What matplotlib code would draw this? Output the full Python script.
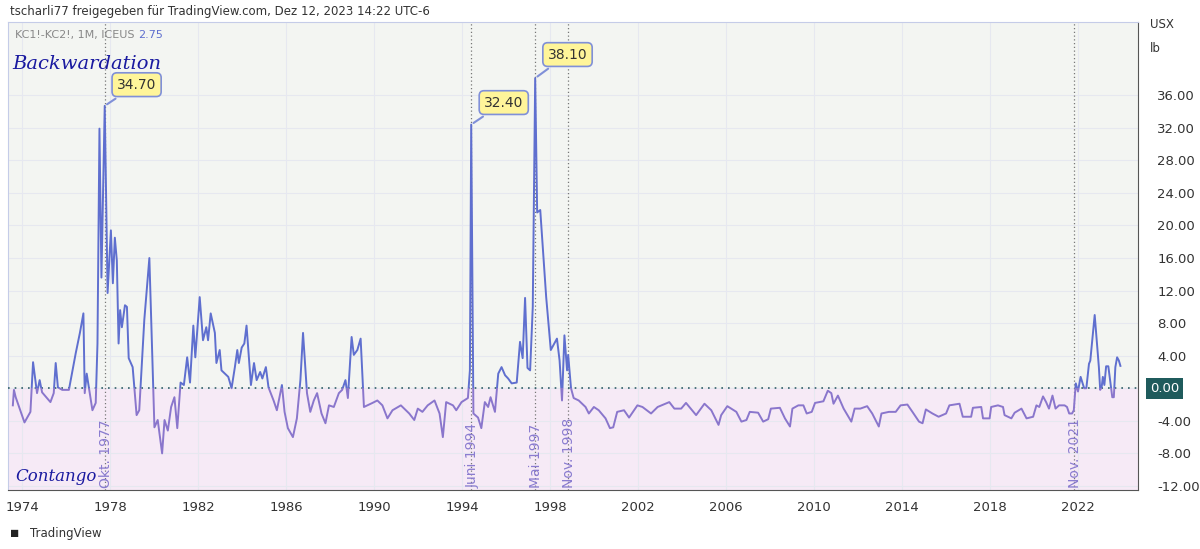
import numpy as np
import matplotlib.pyplot as plt
from matplotlib.patches import Rectangle

# ── DATA: KC1!-KC2! spread (USX/lb), monthly ──
years = [
    1973.57, 1973.62, 1973.70, 1974.10, 1974.37, 1974.49, 1974.67, 1974.79, 1974.90,
    1975.28, 1975.43, 1975.52, 1975.62, 1975.82, 1976.12, 1976.43, 1976.62, 1976.78,
    1976.84, 1976.93, 1977.19, 1977.34, 1977.42, 1977.51, 1977.60, 1977.75, 1977.88,
    1978.03, 1978.12, 1978.21, 1978.30, 1978.38, 1978.45, 1978.53, 1978.67, 1978.76,
    1978.84, 1979.02, 1979.20, 1979.32, 1979.55, 1979.78, 1980.01, 1980.16, 1980.36,
    1980.47, 1980.62, 1980.77, 1980.92, 1981.05, 1981.20, 1981.35, 1981.50, 1981.63,
    1981.78, 1981.87, 1982.07, 1982.22, 1982.37, 1982.45, 1982.57, 1982.76, 1982.83,
    1982.98, 1983.06, 1983.37, 1983.52, 1983.67, 1983.78, 1983.85, 1983.98, 1984.10,
    1984.20, 1984.40, 1984.54, 1984.66, 1984.82, 1984.92, 1985.08, 1985.20, 1985.43,
    1985.58, 1985.81, 1985.93, 1986.08, 1986.31, 1986.49, 1986.65, 1986.77, 1986.95,
    1987.10, 1987.26, 1987.41, 1987.61, 1987.79, 1987.95, 1988.17, 1988.40, 1988.55,
    1988.70, 1988.81, 1988.98, 1989.08, 1989.24, 1989.39, 1989.54, 1989.93, 1990.15,
    1990.38, 1990.61, 1990.84, 1991.22, 1991.60, 1991.83, 1991.99, 1992.20, 1992.44,
    1992.75, 1992.98, 1993.13, 1993.28, 1993.59, 1993.74, 1993.98, 1994.27, 1994.36,
    1994.42, 1994.52, 1994.73, 1994.88, 1995.04, 1995.19, 1995.30, 1995.50, 1995.65,
    1995.80, 1995.96, 1996.10, 1996.26, 1996.49, 1996.64, 1996.76, 1996.87, 1996.98,
    1997.10, 1997.22, 1997.33, 1997.42, 1997.56, 1997.83, 1998.04, 1998.32, 1998.44,
    1998.55, 1998.66, 1998.78, 1998.83, 1998.96, 1999.08, 1999.31, 1999.62, 1999.77,
    2000.00, 2000.22, 2000.53, 2000.73, 2000.88, 2001.06, 2001.37, 2001.60, 2001.98,
    2002.21, 2002.60, 2002.90, 2003.43, 2003.66, 2003.97, 2004.19, 2004.65, 2005.03,
    2005.34, 2005.67, 2005.79, 2006.07, 2006.48, 2006.71, 2006.94, 2007.09, 2007.47,
    2007.70, 2007.93, 2008.05, 2008.46, 2008.69, 2008.92, 2009.03, 2009.30, 2009.53,
    2009.68, 2009.91, 2010.06, 2010.44, 2010.64, 2010.80, 2010.90, 2011.10, 2011.36,
    2011.71, 2011.86, 2012.12, 2012.43, 2012.66, 2012.96, 2013.08, 2013.42, 2013.73,
    2013.95, 2014.26, 2014.49, 2014.79, 2014.95, 2015.10, 2015.40, 2015.68, 2016.02,
    2016.17, 2016.63, 2016.78, 2017.16, 2017.24, 2017.62, 2017.70, 2018.00, 2018.07,
    2018.38, 2018.61, 2018.68, 2018.99, 2019.14, 2019.45, 2019.68, 2019.98, 2020.13,
    2020.26, 2020.43, 2020.57, 2020.70, 2020.86, 2021.00, 2021.16, 2021.41, 2021.52,
    2021.62, 2021.75, 2021.83, 2021.92, 2022.02, 2022.14, 2022.30, 2022.40, 2022.52,
    2022.58, 2022.78, 2022.97, 2023.03, 2023.10, 2023.15, 2023.22, 2023.30, 2023.40,
    2023.50, 2023.58, 2023.65, 2023.72, 2023.80, 2023.88, 2023.95,
]
spread = [
    -2.1, -0.2, -1.1, -4.2, -2.9, 3.2, -0.6, 1.0, -0.5,
    -1.7, -0.6, 3.1, 0.1, -0.2, -0.2, 4.3, 6.8, 9.2,
    -0.6, 1.8, -2.7, -1.8, 5.5, 31.9, 13.6, 34.7, 11.7,
    19.4, 12.9, 18.5, 15.7, 5.5, 9.6, 7.5, 10.2, 10.0,
    3.7, 2.6, -3.3, -2.7, 8.4, 16.0, -4.8, -3.9, -8.0,
    -3.9, -5.2, -2.3, -1.1, -4.9, 0.7, 0.4, 3.8, 0.7,
    7.7, 3.8, 11.2, 5.9, 7.5, 5.9, 9.2, 6.8, 3.1,
    4.7, 2.2, 1.4, 0.0, 2.6, 4.7, 3.1, 5.0, 5.5,
    7.7, 0.4, 3.1, 1.0, 2.0, 1.2, 2.6, 0.1, -1.5,
    -2.7, 0.4, -2.9, -4.9, -6.0, -3.7, 1.0, 6.8, -0.6,
    -2.9, -1.5, -0.6, -3.1, -4.3, -2.1, -2.3, -0.6, -0.2,
    1.0, -1.2, 6.3, 4.1, 4.7, 6.1, -2.3, -1.8, -1.5,
    -2.1, -3.7, -2.7, -2.1, -3.1, -3.9, -2.5, -2.9, -2.1,
    -1.5, -3.1, -6.0, -1.7, -2.1, -2.7, -1.7, -1.2, 2.2,
    32.4, -3.1, -3.6, -4.9, -1.7, -2.3, -1.1, -2.9, 1.8,
    2.6, 1.6, 1.2, 0.6, 0.7, 5.7, 3.7, 11.1, 2.5,
    2.2, 10.0, 38.1, 21.6, 21.9, 11.2, 4.7, 6.1, 3.4,
    -1.5, 6.5, 2.2, 4.1, 0.0, -1.2, -1.5, -2.3, -3.1,
    -2.3, -2.7, -3.7, -4.9, -4.8, -2.9, -2.7, -3.6, -2.1,
    -2.3, -3.1, -2.3, -1.7, -2.5, -2.5, -1.8, -3.3, -1.9,
    -2.7, -4.5, -3.3, -2.2, -2.9, -4.1, -3.9, -2.9, -3.0,
    -4.1, -3.8, -2.5, -2.4, -3.7, -4.7, -2.5, -2.1, -2.1,
    -3.1, -2.9, -1.8, -1.6, -0.3, -0.6, -1.9, -0.9, -2.5,
    -4.1, -2.5, -2.5, -2.2, -3.1, -4.7, -3.1, -2.9, -2.9,
    -2.1, -2.0, -2.9, -4.1, -4.3, -2.6, -3.1, -3.5, -3.1,
    -2.1, -1.9, -3.5, -3.5, -2.4, -2.3, -3.7, -3.7, -2.3,
    -2.1, -2.3, -3.3, -3.7, -3.0, -2.5, -3.7, -3.5, -2.1,
    -2.3, -1.0, -1.7, -2.5, -0.9, -2.5, -2.1, -2.1, -2.3,
    -3.1, -3.1, -2.7, 0.6, -0.4, 1.4, 0.0, 0.0, 3.0,
    3.4, 9.0, 2.6, -0.2, 0.2, 1.4, 0.4, 2.7, 2.7,
    0.6, -1.1, -1.1, 2.6, 3.8, 3.4, 2.75,
]

event_dates = [1977.75, 1994.42, 1997.33, 1998.83, 2021.83]
event_labels = ['Okt. 1977', 'Juni 1994', 'Mai 1997', 'Nov. 1998', 'Nov. 2021']

peak_dates = [1977.75, 1994.42, 1997.33]
peak_values = [34.70, 32.40, 38.10]
peak_box_x = [1979.2, 1995.9, 1998.8]
peak_box_y = [37.3, 35.1, 41.0]

x_ticks = list(range(1974, 2023, 4))
y_ticks = list(range(-12, 37, 4))

# ── CHART ──
fig = plt.figure(figsize=(12, 5.49), dpi=100)
fig.patch.set_facecolor('white')
ax = fig.add_axes([8/1200, 59/549, 1130/1200, 468/549])
xmin, xmax = 1973.35, 2024.75
ymin, ymax = -12.5, 45.0
ax.set_xlim(xmin, xmax)
ax.set_ylim(ymin, ymax)

# baseline fills
ax.axhspan(0, ymax, color='#f3f5f2', zorder=0)
ax.axhspan(ymin, 0, color='#f6eaf6', zorder=0)

for t in x_ticks:
    ax.axvline(t, color='#e6e8f0', lw=0.8, zorder=1)
for t in y_ticks:
    ax.axhline(t, color='#e6e8f0', lw=0.8, zorder=1)

ax.axhline(0, color='#2f5f66', lw=1.2, ls=(0, (1, 3)), zorder=3)

upper, = ax.plot(years, spread, color='#5f6fcf', lw=1.4, zorder=4)
lower, = ax.plot(years, spread, color='#8a76cc', lw=1.4, zorder=4)
upper.set_clip_path(Rectangle((xmin, 0), xmax - xmin, ymax, transform=ax.transData))
lower.set_clip_path(Rectangle((xmin, ymin), xmax - xmin, -ymin, transform=ax.transData))

for d, lab in zip(event_dates, event_labels):
    ax.axvline(d, color='#777777', lw=0.9, ls=(0, (1, 2)), zorder=2)
    ax.text(d + 0.05, -12.2, lab, rotation=90, ha='center', va='bottom',
            color='#8a7cd0', fontsize=10, zorder=5)

for d, v, bx, by in zip(peak_dates, peak_values, peak_box_x, peak_box_y):
    ax.annotate(f'{v:.2f}', xy=(d, v), xytext=(bx, by), ha='center', va='center',
                fontsize=10, color='#333333', zorder=6,
                bbox=dict(boxstyle='round,pad=0.35', fc='#fff59a', ec='#8090d8', lw=1.2),
                arrowprops=dict(arrowstyle='-', color='#8090d8', lw=1.5))

ax.text(1973.55, 39.8, 'Backwardation', fontsize=14, style='italic',
        family='DejaVu Serif', color='#1a1aa0', va='center')
ax.text(1973.7, -10.9, 'Contango', fontsize=12, style='italic',
        family='DejaVu Serif', color='#1a1aa0', va='center')

ax.yaxis.tick_right()
ax.set_yticks(y_ticks)
ax.set_yticklabels([f'{t:.2f}' if t != 0 else '' for t in y_ticks],
                   fontsize=9.5, color='#333333')
ax.set_xticks(x_ticks)
ax.set_xticklabels([str(t) for t in x_ticks], fontsize=9.5, color='#333333')
ax.tick_params(length=0, pad=8)
ax.tick_params(axis='y', pad=14)
for s in ['top', 'left']:
    ax.spines[s].set_color('#c5cce8')
ax.spines['right'].set_color('#555555')
ax.spines['bottom'].set_color('#555555')

ax.text(xmax + 0.55, 0, '0.00', ha='left', va='center', fontsize=9.5, color='white',
        bbox=dict(boxstyle='square,pad=0.3', fc='#1f5b5c', ec='none'), clip_on=False)

fig.text(10/1200, 1 - 12/549, 'tscharli77 freigegeben für TradingView.com, Dez 12, 2023 14:22 UTC-6',
         fontsize=8.5, color='#333333', va='center')
fig.text(15/1200, 1 - 35/549, 'KC1!-KC2!, 1M, ICEUS', fontsize=8, color='#888888', va='center')
fig.text(138/1200, 1 - 35/549, '2.75', fontsize=8, color='#5f6fcf', va='center')
fig.text(1150/1200, 1 - 36/549, 'USX\n\nlb', fontsize=8.5, color='#333333', va='center',
         linespacing=0.9)
fig.text(30/1200, 1 - 533/549, 'TradingView', fontsize=8.5, color='#333333', va='center')
fig.text(10/1200, 1 - 533/549, '◼', fontsize=8, color='#222222', va='center')

plt.savefig('out.png', dpi=100)
